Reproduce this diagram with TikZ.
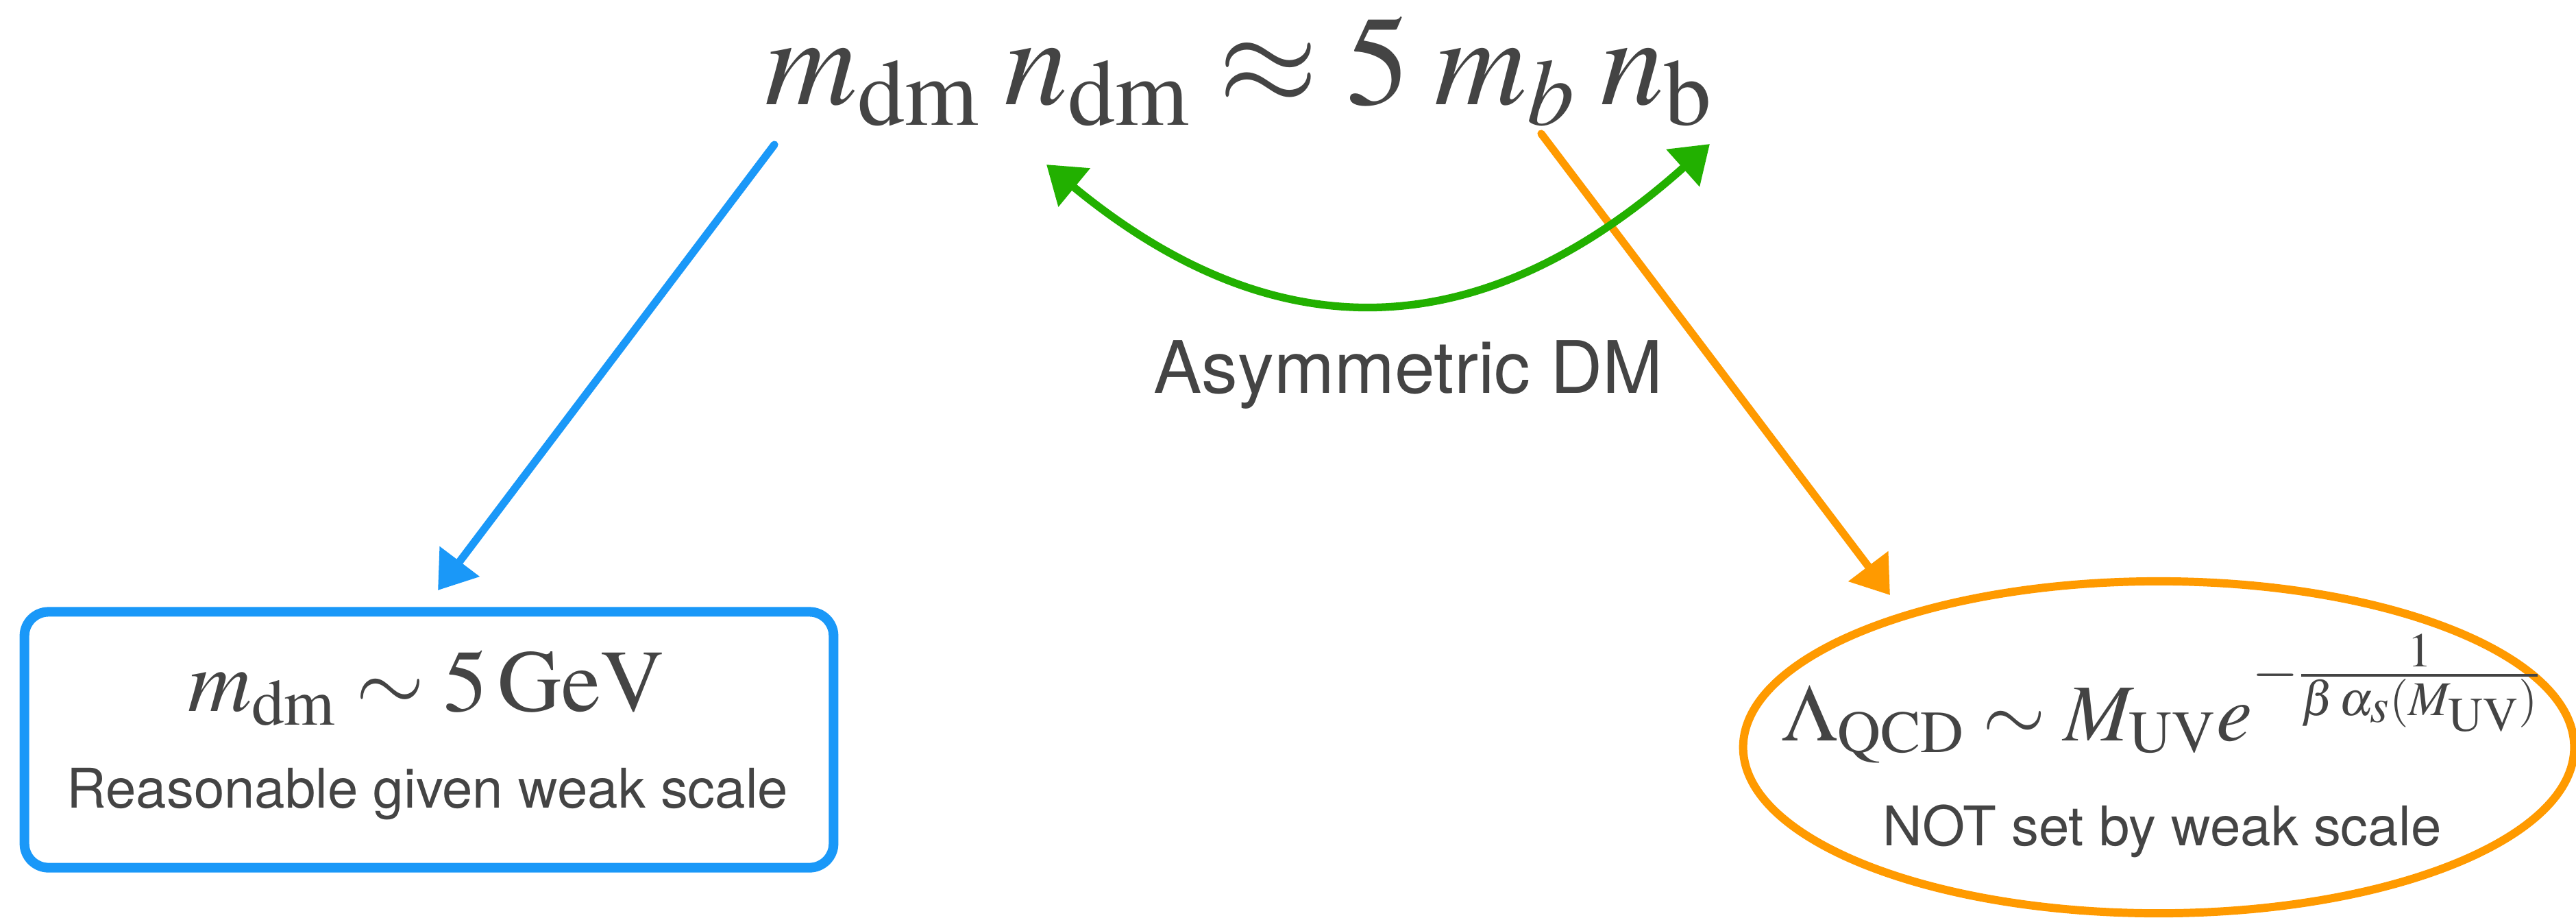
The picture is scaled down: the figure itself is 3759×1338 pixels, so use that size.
\documentclass[tikz,border=0pt]{standalone}
\usepackage{mathptmx}
\usepackage[no-math]{fontspec}
\newfontfamily\capfont{TeX Gyre Heros}
\usetikzlibrary{arrows.meta,shapes.geometric}
\definecolor{txt}{HTML}{444444}
\definecolor{cblue}{HTML}{1A98F8}
\definecolor{cgreen}{HTML}{22B000}
\definecolor{corange}{HTML}{FF9A00}
\begin{document}
\begin{tikzpicture}[x=0.01cm,y=-0.01cm,
  txtnode/.style={text=txt, inner sep=0pt, anchor=base},
  pencil/.style={line width=3.2pt, line cap=round, line join=round},
  headtip/.style={-{Triangle[length=15pt,width=20pt]}},
  bothtips/.style={{Triangle[length=15pt,width=20pt]}-{Triangle[length=15pt,width=20pt]}},
]
\useasboundingbox (0,0) rectangle (3759,1338);
\fill[white] (0,0) rectangle (3759,1338);

% main relation
\node[txtnode, font=\fontsize{53}{58}\selectfont] (eq) at (1808,152)
  {$m_{\mathrm{dm}}\mskip3.5mu n_{\mathrm{dm}} \approx 5\mskip3.5mu m_b\mskip3.5mu n_{\mathrm{b}}$};

% blue box
\node[draw=cblue, line width=4pt, rounded corners=10pt, minimum width=11.8cm,
  minimum height=3.73cm, inner sep=0pt] (box) at (626,1079) {};
\node[txtnode, font=\fontsize{36.6}{40}\selectfont] (boxf) at (622,1037)
  {$m_{\mathrm{dm}} \sim 5\,\mathrm{GeV}$};
\node[txtnode, font=\capfont\fontsize{22.7}{26}\selectfont] (boxc) at (624,1178)
  {Reasonable given weak scale};

% orange ellipse
\node[draw=corange, ellipse, line width=3.4pt, minimum width=12.12cm,
  minimum height=4.84cm, inner sep=0pt] (ell) at (3150,1090) {};
\node[txtnode, font=\fontsize{33.5}{38}\selectfont] (ellf) at (3155,1080)
  {$\Lambda_{\mathrm{QCD}} \sim M_{\mathrm{UV}} e^{-\frac{1}{\beta\,\alpha_s(M_{\mathrm{UV}})}}$};
\node[txtnode, font=\capfont\fontsize{22.7}{26}\selectfont] (ellc) at (3155,1233)
  {NOT set by weak scale};

% label
\node[txtnode, font=\capfont\fontsize{30}{36}\selectfont] (adm) at (2055,573)
  {Asymmetric DM};

% connectors
\coordinate (bs) at (1130,211);
\coordinate (be) at (639,861);
\draw[pencil, cblue, headtip] (bs) -- (be);

\coordinate (os) at (2249,195);
\coordinate (oe) at (2758,868);
\draw[pencil, corange, headtip] (os) -- (oe);

\coordinate (gl) at (1527,240);
\coordinate (gr) at (2495,210);
\draw[pencil, cgreen, bothtips] (gl) .. controls (1857,512) and (2157,512) .. (gr);
\end{tikzpicture}
\end{document}
